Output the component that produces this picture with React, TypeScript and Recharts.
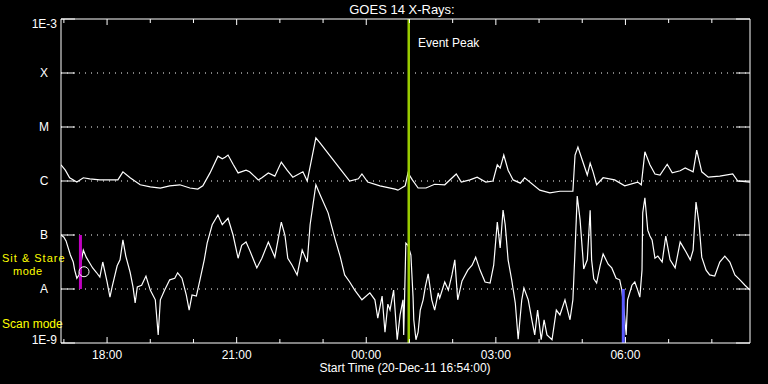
import React from 'react';
import {
  ComposedChart,
  Line,
  XAxis,
  YAxis,
  ReferenceLine,
  ReferenceDot,
  Customized,
} from 'recharts';

// ---- Text ----
const TITLE = 'GOES 14 X-Rays:';
const X_TITLE = 'Start Time (20-Dec-11 16:54:00)';
const EVENT_LABEL = 'Event Peak';
const SIT_STARE_LABEL = ['Sit & Stare', 'mode'];
const SCAN_LABEL = 'Scan mode';

// ---- Time axis (minutes since 16:54 UT) ----
const timeDomain = [2, 959];
const hourTicks = [6, 66, 126, 186, 246, 306, 366, 426, 486, 546, 606, 666, 726, 786, 846, 906];
const majorTicks = [66, 246, 426, 606, 786];
const majorLabels = ['18:00', '21:00', '00:00', '03:00', '06:00'];

// ---- Flux axis (log10 W/m^2) ----
const levelTicks = [-9, -8, -7, -6, -5, -4, -3];
const levelLabels = ['1E-9', 'A', 'B', 'C', 'M', 'X', '1E-3'];
const gridLevels = [-8, -7, -6, -5, -4];

// ---- Long channel (1-8 A) ----
const longTime = [2, 8, 14, 24, 33, 42, 56, 70, 81, 88, 98, 112, 126, 140, 153, 167, 181, 192, 199, 209, 220, 226, 230, 234, 241, 248, 259, 264, 276, 281, 290, 299, 308, 316, 324, 338, 344, 349, 356, 362, 376, 390, 403, 415, 420, 428, 445, 466, 470, 480, 484, 490, 498, 509, 521, 535, 551, 558, 570, 580, 592, 602, 608, 612, 617, 623, 630, 640, 646, 667, 681, 695, 713, 716, 720, 726, 733, 737, 741, 746, 755, 771, 785, 803, 808, 813, 820, 827, 834, 844, 851, 862, 869, 880, 885, 892, 901, 917, 935, 942, 959];
const longFlux = [-5.70, -5.80, -5.94, -6.02, -5.94, -5.96, -5.98, -5.98, -5.98, -5.83, -5.94, -6.07, -6.11, -6.13, -6.09, -6.07, -6.13, -6.15, -6.09, -5.85, -5.54, -5.59, -5.56, -5.52, -5.69, -5.85, -5.80, -5.83, -5.98, -5.94, -5.85, -5.91, -5.65, -5.80, -5.93, -5.83, -6.00, -5.67, -5.20, -5.30, -5.54, -5.78, -6.00, -5.96, -5.87, -6.02, -6.09, -6.15, -6.17, -6.09, -5.85, -5.98, -6.13, -6.13, -6.06, -6.07, -5.87, -6.02, -5.98, -5.93, -6.02, -6.00, -5.70, -5.76, -5.52, -5.80, -5.98, -6.04, -5.94, -6.17, -6.22, -6.19, -6.19, -5.52, -5.37, -5.61, -5.89, -5.67, -5.83, -6.07, -5.94, -5.98, -6.09, -6.02, -6.07, -5.46, -5.70, -5.87, -5.89, -5.69, -5.85, -5.81, -5.76, -5.83, -5.43, -5.83, -5.93, -5.91, -5.87, -6.00, -6.02];

// ---- Short channel (0.5-4 A) ----
const shortTime = [2, 6, 9, 15, 19, 21, 24, 27, 30, 33, 37, 41, 46, 51, 56, 60, 66, 70, 73, 80, 84, 88, 92, 98, 102, 105, 108, 114, 120, 126, 133, 137, 140, 146, 153, 160, 164, 170, 176, 180, 184, 190, 195, 201, 205, 212, 220, 226, 234, 241, 248, 253, 259, 264, 274, 281, 290, 299, 308, 313, 317, 323, 330, 337, 344, 348, 356, 362, 373, 383, 390, 396, 403, 410, 420, 431, 438, 442, 448, 452, 456, 459, 464, 469, 473, 477, 478, 481, 484, 488, 491, 492, 495, 498, 501, 505, 508, 512, 517, 521, 526, 528, 535, 540, 545, 549, 553, 559, 567, 573, 578, 584, 591, 598, 603, 608, 612, 616, 619, 623, 628, 633, 637, 642, 645, 651, 656, 660, 664, 669, 673, 677, 684, 690, 695, 702, 709, 713, 716, 719, 723, 727, 728, 733, 737, 739, 742, 746, 751, 755, 762, 767, 773, 778, 781, 784, 787, 789, 795, 799, 803, 806, 809, 810, 813, 817, 820, 823, 827, 831, 837, 842, 848, 855, 862, 866, 870, 876, 880, 884, 888, 892, 898, 903, 910, 917, 924, 931, 938, 945, 952, 959];
const shortFlux = [-7.00, -7.04, -7.11, -7.37, -7.50, -7.65, -7.80, -7.74, -7.50, -7.28, -7.41, -7.50, -7.61, -7.69, -7.78, -7.50, -7.87, -8.15, -7.96, -7.57, -7.46, -7.09, -7.39, -7.69, -7.96, -8.26, -7.96, -7.93, -7.76, -8.02, -8.20, -8.85, -8.20, -8.02, -7.83, -7.80, -7.70, -7.80, -8.11, -8.39, -8.11, -8.13, -7.83, -7.46, -7.15, -6.81, -6.63, -6.81, -6.69, -7.00, -7.43, -7.19, -7.13, -7.28, -7.61, -7.43, -7.13, -7.41, -6.76, -7.00, -7.43, -7.56, -7.74, -7.28, -7.50, -6.81, -6.07, -6.26, -6.59, -7.09, -7.41, -7.74, -7.87, -8.02, -8.20, -8.07, -8.20, -8.54, -8.13, -8.80, -8.28, -8.39, -8.02, -8.94, -8.48, -8.20, -8.85, -7.15, -7.19, -7.37, -8.15, -8.57, -8.94, -8.80, -8.39, -8.20, -7.96, -7.72, -8.20, -8.39, -8.07, -8.17, -7.87, -8.02, -7.74, -7.46, -8.20, -7.85, -7.65, -7.56, -7.41, -7.65, -7.87, -7.89, -7.56, -6.76, -7.24, -6.54, -6.81, -7.46, -7.83, -8.26, -8.93, -8.20, -7.98, -8.20, -8.57, -8.85, -8.39, -8.94, -8.57, -8.85, -8.94, -8.39, -8.48, -8.20, -8.57, -8.20, -7.28, -6.28, -6.72, -7.43, -7.63, -7.46, -6.54, -7.46, -7.81, -7.89, -7.56, -7.35, -7.54, -7.61, -7.80, -7.83, -8.02, -8.39, -8.85, -8.20, -7.93, -7.87, -8.02, -8.15, -7.65, -6.59, -6.31, -6.91, -7.02, -7.09, -7.43, -7.39, -7.50, -7.02, -7.46, -7.61, -7.13, -7.22, -7.31, -7.46, -7.28, -6.39, -6.76, -7.41, -7.65, -7.74, -7.76, -7.50, -7.39, -7.50, -7.74, -7.83, -7.93, -8.02];

// ---- Markers ----
const eventPeakTime = 485;
const sitStareTime = 29;
const scanTime = 783;
const circleTime = 34;
const circleFlux = -7.68;

const longData = longTime.map((t, i) => ({ t, v: longFlux[i] }));
const shortData = shortTime.map((t, i) => ({ t, v: shortFlux[i] }));

const FONT = '"Liberation Sans", Arial, sans-serif';
const WHITE = '#ffffff';
const YELLOW = '#ffff00';

const BottomTick = (props: any) => {
  const { x, y, payload } = props;
  const idx = majorTicks.indexOf(payload.value);
  const major = idx >= 0;
  return (
    <g>
      <line x1={x} y1={y} x2={x} y2={y - (major ? 6 : 4)} stroke={WHITE} strokeWidth={1} />
      {major && (
        <text x={x} y={y + 16} textAnchor="middle" fill={WHITE} fontFamily={FONT} fontSize={12}>
          {majorLabels[idx]}
        </text>
      )}
    </g>
  );
};

const TopTick = (props: any) => {
  const { x, y, payload } = props;
  const major = majorTicks.indexOf(payload.value) >= 0;
  return <line x1={x} y1={y} x2={x} y2={y + (major ? 6 : 4)} stroke={WHITE} strokeWidth={1} />;
};

const LeftTick = (props: any) => {
  const { x, y, payload } = props;
  const idx = levelTicks.indexOf(payload.value);
  const label = levelLabels[idx];
  const isExp = label.startsWith('1E');
  let ty = y + 4;
  if (payload.value === -3) ty = y + 9;
  if (payload.value === -9) ty = y + 1;
  return (
    <g>
      <line x1={x} y1={y} x2={x + 14} y2={y} stroke={WHITE} strokeWidth={1} />
      <text
        x={isExp ? x - 4 : x - 17}
        y={ty}
        textAnchor={isExp ? 'end' : 'middle'}
        fill={WHITE}
        fontFamily={FONT}
        fontSize={12}
      >
        {label}
      </text>
    </g>
  );
};

const RightTick = (props: any) => {
  const { x, y } = props;
  return <line x1={x} y1={y} x2={x - 14} y2={y} stroke={WHITE} strokeWidth={1} />;
};

const Annotations = () => (
  <g fontFamily={FONT} fontSize={12}>
    <text x={402} y={14} textAnchor="middle" fill={WHITE} fontSize={13}>{TITLE}</text>
    <text x={418} y={47} fill={WHITE}>{EVENT_LABEL}</text>
    <text x={405} y={372} textAnchor="middle" fill={WHITE}>{X_TITLE}</text>
    <text x={2} y={262} fill={YELLOW} fontSize={11} letterSpacing={1}>{SIT_STARE_LABEL[0]}</text>
    <text x={13} y={275} fill={YELLOW} fontSize={11} letterSpacing={0.5}>{SIT_STARE_LABEL[1]}</text>
    <text x={2} y={328} fill={YELLOW}>{SCAN_LABEL}</text>
  </g>
);

export default function App() {
  return (
    <div style={{ position: 'absolute', left: 0, top: 0, width: 768, height: 384, background: '#000', overflow: 'hidden' }}>
      <ComposedChart width={768} height={384} margin={{ top: 0, right: 0, bottom: 0, left: 0 }}>
        <XAxis
          xAxisId="bottom"
          dataKey="t"
          type="number"
          domain={timeDomain}
          allowDataOverflow
          ticks={hourTicks}
          interval={0}
          height={41}
          tickSize={0}
          tickMargin={0}
          tickLine={false}
          axisLine={{ stroke: WHITE, strokeWidth: 1 }}
          tick={(p: any) => <BottomTick {...p} />}
        />
        <XAxis
          xAxisId="top"
          orientation="top"
          dataKey="t"
          type="number"
          domain={timeDomain}
          allowDataOverflow
          ticks={hourTicks}
          interval={0}
          height={19}
          tickSize={0}
          tickMargin={0}
          tickLine={false}
          axisLine={{ stroke: WHITE, strokeWidth: 1 }}
          tick={(p: any) => <TopTick {...p} />}
        />
        <YAxis
          yAxisId="left"
          type="number"
          domain={[-9, -3]}
          allowDataOverflow
          ticks={levelTicks}
          interval={0}
          width={61}
          tickSize={0}
          tickMargin={0}
          tickLine={false}
          axisLine={{ stroke: WHITE, strokeWidth: 1 }}
          tick={(p: any) => <LeftTick {...p} />}
        />
        <YAxis
          yAxisId="right"
          orientation="right"
          type="number"
          domain={[-9, -3]}
          allowDataOverflow
          ticks={levelTicks}
          interval={0}
          width={18}
          tickSize={0}
          tickMargin={0}
          tickLine={false}
          axisLine={{ stroke: WHITE, strokeWidth: 1 }}
          tick={(p: any) => <RightTick {...p} />}
        />
        {gridLevels.map((lv) => (
          <ReferenceLine
            key={lv}
            xAxisId="bottom"
            yAxisId="left"
            y={lv}
            stroke={WHITE}
            strokeWidth={1}
            strokeDasharray="1 5"
          />
        ))}
        <Line
          xAxisId="bottom"
          yAxisId="left"
          data={longData}
          dataKey="v"
          type="linear"
          stroke={WHITE}
          strokeWidth={1.2}
          dot={false}
          activeDot={false}
          isAnimationActive={false}
        />
        <Line
          xAxisId="bottom"
          yAxisId="left"
          data={shortData}
          dataKey="v"
          type="linear"
          stroke={WHITE}
          strokeWidth={1.2}
          dot={false}
          activeDot={false}
          isAnimationActive={false}
        />
        <ReferenceLine xAxisId="bottom" yAxisId="left" x={eventPeakTime} stroke="#99cc00" strokeWidth={2.5} />
        <ReferenceLine
          xAxisId="bottom"
          yAxisId="left"
          segment={[{ x: sitStareTime, y: -7 }, { x: sitStareTime, y: -8 }]}
          stroke="#c000c0"
          strokeWidth={3}
        />
        <ReferenceLine
          xAxisId="bottom"
          yAxisId="left"
          segment={[{ x: scanTime, y: -8 }, { x: scanTime, y: -9 }]}
          stroke="#5a5aff"
          strokeWidth={3}
        />
        <ReferenceDot
          xAxisId="bottom"
          yAxisId="left"
          x={circleTime}
          y={circleFlux}
          r={5}
          fill="none"
          stroke={WHITE}
          strokeWidth={1}
        />
        <Customized component={Annotations} />
      </ComposedChart>
    </div>
  );
}
